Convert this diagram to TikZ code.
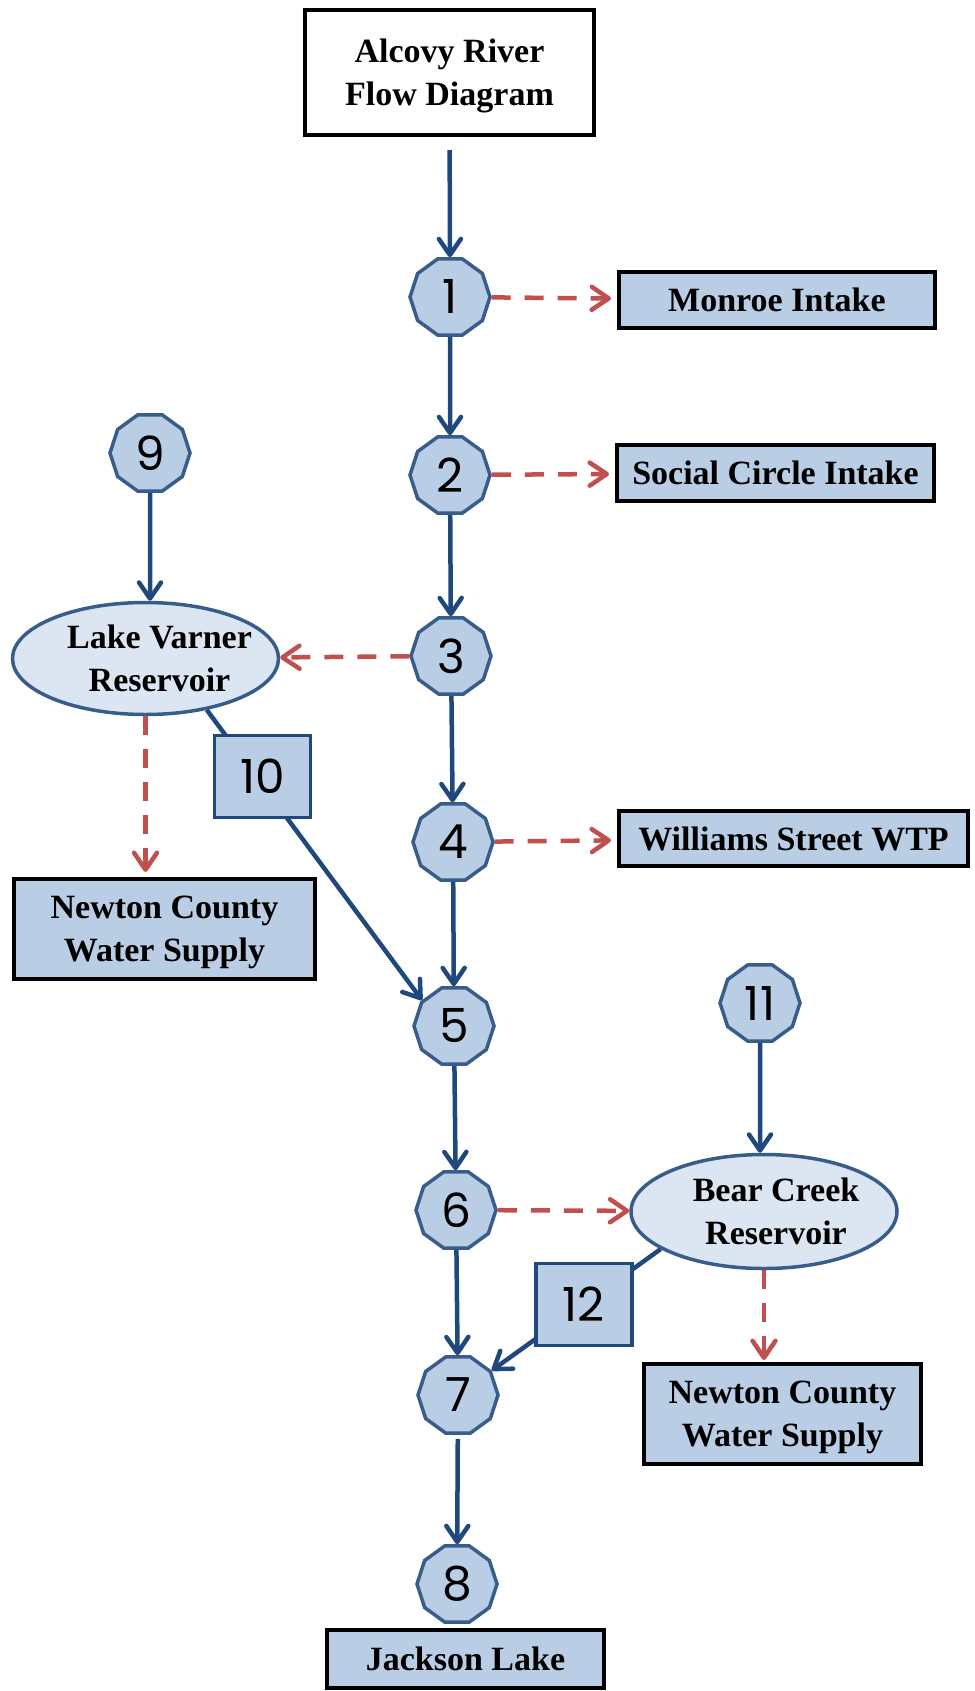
\documentclass[tikz,border=0pt]{standalone}
\usepackage{fontspec}
\setmainfont{Liberation Serif}
\newfontfamily\numfont{Poppins}
\usetikzlibrary{shapes.geometric,arrows.meta}
\definecolor{lightblue}{HTML}{B9CDE5}
\definecolor{paleblue}{HTML}{DCE6F2}
\definecolor{gaugeline}{HTML}{385D8A}
\definecolor{flowblue}{HTML}{1F497D}
\definecolor{withdrawred}{HTML}{C0504D}
\newcommand{\gaugefont}{\numfont\fontsize{47}{50}\selectfont}
\newcommand{\labelfont}{\bfseries\fontsize{34}{43}\selectfont}
\newcommand{\gaugenode}[3]{
  \node[gauge] (#1) at (#2) {#3};
}
\tikzset{
  gauge/.style={regular polygon, regular polygon sides=10, minimum size=80pt,
    inner sep=0pt, draw=gaugeline, line width=3.5pt, fill=lightblue, font=\gaugefont},
  outlet/.style={rectangle, draw=black, line width=4pt, fill=lightblue,
    inner sep=0pt, align=center, text depth=0pt, font=\labelfont},
  reservoir/.style={ellipse, draw=gaugeline, line width=3.5pt, fill=paleblue,
    minimum width=266pt, minimum height=112pt, inner sep=0pt},
  restext/.style={align=center, text depth=0pt, font=\labelfont},
  release/.style={rectangle, draw=flowblue, line width=3.5pt, fill=lightblue,
    minimum width=96pt, minimum height=82pt, inner sep=0pt, font=\gaugefont},
  flow/.style={draw=flowblue, line width=4.5pt, -{Straight Barb[length=16pt,width=22pt,round]}},
  withdraw/.style={draw=withdrawred, line width=4.5pt, dash pattern=on 19pt off 14pt,
    -{Straight Barb[length=17pt,width=23pt,round]}}
}

\begin{document}
\begin{tikzpicture}[x=1pt,y=-1pt]
	\useasboundingbox (0,0) rectangle (974,1691);
	\node[outlet, fill=white, minimum width=289pt, minimum height=125pt] (title) at (449.5,72.5) {Alcovy River\\Flow Diagram};
	\gaugenode{n1}{450,297}{1}
	\gaugenode{n2}{450,475}{2}
	\gaugenode{n3}{451,656}{3}
	\gaugenode{n4}{453,842}{4}
	\gaugenode{n5}{454,1026}{5}
	\gaugenode{n6}{456,1210}{6}
	\gaugenode{n7}{458,1395}{7}
	\gaugenode{n8}{457,1584}{8}
	\gaugenode{n9}{150,453}{9}
	\gaugenode{n11}{760,1003}{11}
	\node[outlet, minimum width=316pt, minimum height=56pt] (monroe) at (777,300) {Monroe Intake};
	\node[outlet, minimum width=317pt, minimum height=56pt] (social) at (775.5,473) {Social Circle Intake};
	\node[outlet, minimum width=349pt, minimum height=55pt] (williams) at (793.5,838.5) {Williams Street WTP};
	\node[outlet, minimum width=301pt, minimum height=100pt] (newtonL) at (164.5,929) {Newton County\\Water Supply};
	\node[outlet, minimum width=277pt, minimum height=100pt] (newtonR) at (782.5,1414) {Newton County\\Water Supply};
	\node[outlet, minimum width=277pt, minimum height=58pt] (jackson) at (465.5,1659) {Jackson Lake};
	\node[reservoir, label={[restext, xshift=14pt]center:Lake Varner\\Reservoir}] (LV) at (145.5,658.5) {};
	\node[reservoir, minimum height=114pt, label={[restext, xshift=12pt]center:Bear Creek\\Reservoir}] (BC) at (764,1211.5) {};
	\draw[flow, shorten <=13pt] (title) -- (n1);
	\draw[flow] (n1) -- (n2);
	\draw[flow] (n2) -- (n3);
	\draw[flow] (n3) -- (n4);
	\draw[flow] (n4) -- (n5);
	\draw[flow] (n5) -- (n6);
	\draw[flow] (n6) -- (n7);
	\draw[flow, shorten <=4pt] (n7) -- (n8);
	\draw[flow] (n9) -- (n9 |- LV.north);
	\draw[flow] (n11) -- (n11 |- BC.north);
	\draw[flow] (LV.-40) -- node[release, pos=0.23, xshift=6pt] (b10) {10} (n5.141);
	\draw[flow] (BC.200) -- node[release, pos=0.455] (b12) {12} (n7.36);
	\draw[withdraw, shorten >=6pt] (n1) -- (monroe);
	\draw[withdraw, shorten >=6pt] (n2) -- (social);
	\draw[withdraw, shorten >=6pt] (n4) -- (williams);
	\draw[withdraw] (n3) -- (LV);
	\draw[withdraw] (n6) -- (BC);
	\draw[withdraw, shorten >=5pt] (LV) -- (LV |- newtonL.north);
	\draw[withdraw, shorten >=2pt] (BC) -- (BC |- newtonR.north);
\end{tikzpicture}
\end{document}
